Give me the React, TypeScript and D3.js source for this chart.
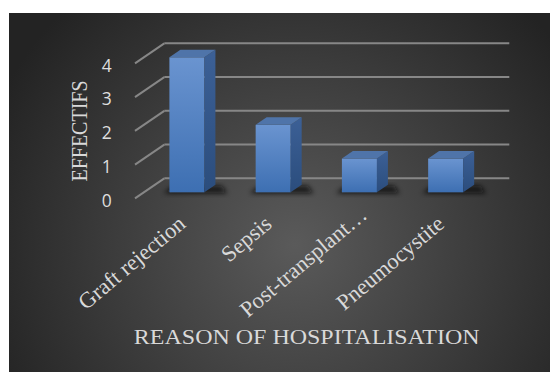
import React from "react";
import * as d3 from "d3";

const categories = ["Graft rejection", "Sepsis", "Post-transplant…", "Pneumocystite"];
const values = [4, 2, 1, 1];
const yTicks = [0, 1, 2, 3, 4];
const xTitle = "REASON OF HOSPITALISATION";
const yTitle = "EFFECTIFS";

const W = 550;
const H = 372;

export default function App() {
  // front plane of the 3D box
  const x0 = 135;
  const x1 = 480;
  const x = d3.scaleBand<string>().domain(categories).range([x0, x1]).paddingInner(0.594).paddingOuter(0.297);
  const y = d3.scaleLinear().domain([0, 4]).range([198.3, 63.3]);
  const DX = 29.3; // depth offset (front -> back)
  const DY = -20;
  const t1 = 0.3;
  const t2 = 0.675;
  const bw = x.bandwidth();

  const serif = "'Liberation Serif', 'DejaVu Serif', serif";
  const sans = "'Open Sans', 'Liberation Sans', sans-serif";

  return (
    <svg width={W} height={H} style={{ position: "absolute", left: 0, top: 0 }}>
      <defs>
        <radialGradient id="bg" cx="295" cy="245" r="330" gradientUnits="userSpaceOnUse">
          <stop offset="0" stopColor="#5a5a5a" />
          <stop offset="0.55" stopColor="#3c3c3c" />
          <stop offset="1" stopColor="#232323" />
        </radialGradient>
        <linearGradient id="front" x1="0" y1="0" x2="0" y2="1">
          <stop offset="0" stopColor="#6a94d0" />
          <stop offset="1" stopColor="#3d6fb2" />
        </linearGradient>
        <linearGradient id="side" x1="0" y1="0" x2="0" y2="1">
          <stop offset="0" stopColor="#3c6096" />
          <stop offset="1" stopColor="#2b4d7d" />
        </linearGradient>
        <filter id="blur" x="-50%" y="-50%" width="200%" height="200%">
          <feGaussianBlur stdDeviation="2.5" />
        </filter>
      </defs>
      <rect x={9} y={13} width={W - 9} height={H - 13} fill="url(#bg)" />

      {/* gridlines */}
      {yTicks.map((v) => (
        <g key={v}>
          <line x1={x0} y1={y(v)} x2={x0 + DX} y2={y(v) + DY} stroke="#878787" strokeWidth={2} />
          <line x1={x0 + DX} y1={y(v) + DY} x2={x1 + DX} y2={y(v) + DY} stroke="#878787" strokeWidth={2} />
        </g>
      ))}

      {/* tick labels */}
      {yTicks.map((v) => (
        <text key={v} x={106.7} y={y(v) + 8.4} fill="#dedede" fontFamily={sans} fontSize={17.5} textAnchor="middle">
          {v}
        </text>
      ))}

      {/* bars */}
      {categories.map((c, i) => {
        const xf = (x(c) as number) + DX * t1;
        const y0 = y(0) + DY * t1;
        const yt = y(values[i]) + DY * t1;
        const sx = DX * (t2 - t1);
        const sy = DY * (t2 - t1);
        return (
          <g key={c}>
            <path
              d={`M${xf - 6},${y0 + 1} L${xf + bw + sx + 12},${y0 + 1} L${xf + bw + sx + 6},${y0 + sy + 1} L${xf + 4},${y0 + sy + 1} Z`}
              fill="#111"
              opacity={0.8}
              filter="url(#blur)"
            />
            <rect x={xf} y={yt} width={bw} height={y0 - yt} fill="url(#front)" />
            <path
              d={`M${xf + bw},${yt} L${xf + bw + sx},${yt + sy} L${xf + bw + sx},${y0 + sy} L${xf + bw},${y0} Z`}
              fill="url(#side)"
            />
            <path
              d={`M${xf},${yt} L${xf + sx},${yt + sy} L${xf + bw + sx},${yt + sy} L${xf + bw},${yt} Z`}
              fill="#4f74a9"
            />
          </g>
        );
      })}

      {/* category labels */}
      {categories.map((c) => {
        const trunc = c.endsWith("…");
        const cx = (x(c) as number) + bw / 2 + DX * t1 + (trunc ? 9 : 0);
        const cy = trunc ? 217 : 226;
        return (
          <text
            key={c}
            transform={`translate(${cx},${cy}) rotate(-40)`}
            textAnchor="end"
            fill="#d9d9d9"
            fontFamily={serif}
            fontSize={22.5}
          >
            {c}
          </text>
        );
      })}

      <text
        transform={`translate(306.7,344) scale(1.09,1)`}
        textAnchor="middle"
        fill="#d9d9d9"
        fontFamily={serif}
        fontSize={22}
      >
        {xTitle}
      </text>
      <text
        transform={`translate(86.5,131) scale(1.15,1) rotate(-90)`}
        textAnchor="middle"
        fill="#d9d9d9"
        fontFamily={serif}
        fontSize={20}
      >
        {yTitle}
      </text>
    </svg>
  );
}
